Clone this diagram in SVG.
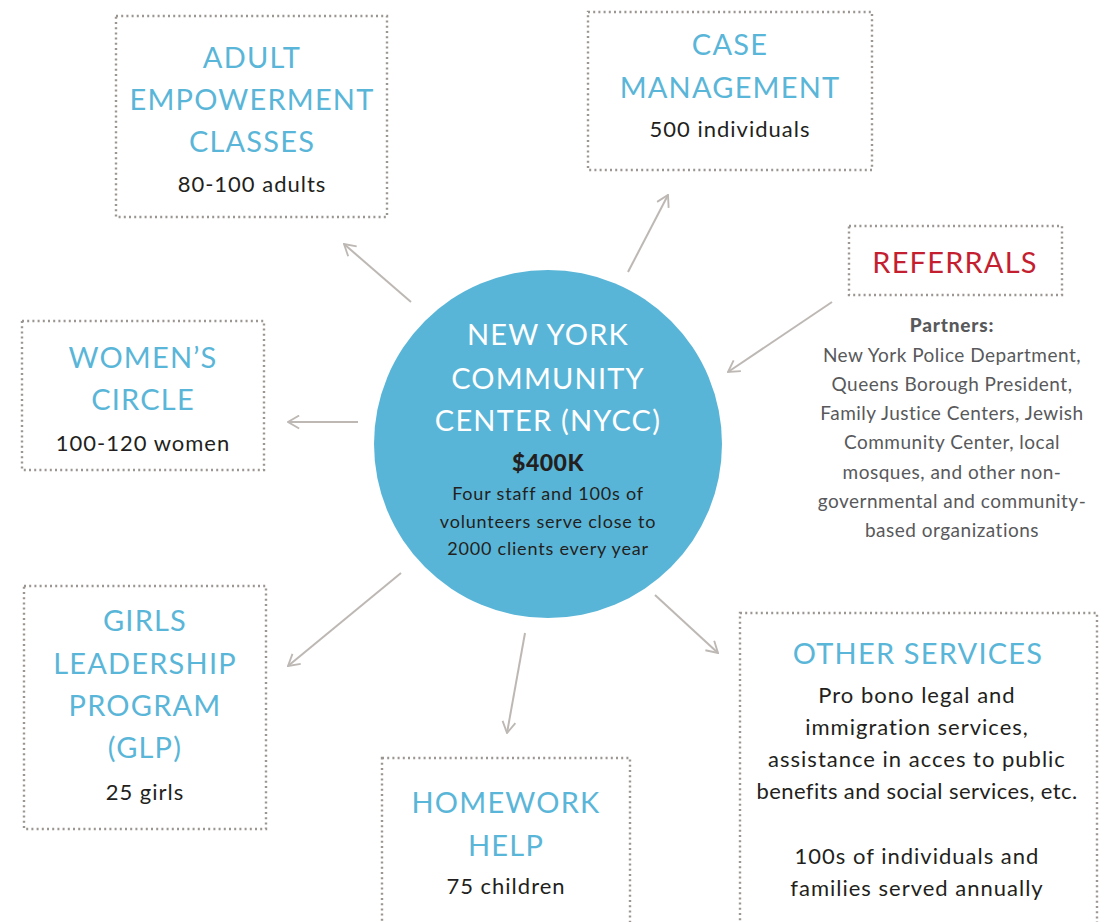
<svg xmlns="http://www.w3.org/2000/svg" width="1107" height="922" viewBox="0 0 1107 922">
  <style>
    .box { fill: none; stroke: #9b9691; stroke-width: 2.4; stroke-dasharray: 2 3.2; }
    .head { font-family: Lato, "Liberation Sans", sans-serif; font-size: 29px; fill: #5ab6d8; text-anchor: middle; letter-spacing: 1.2px; }
    .body { font-family: Lato, "Liberation Sans", sans-serif; font-size: 22px; fill: #231f20; text-anchor: middle; letter-spacing: 1px; }
    .hub { font-family: Lato, "Liberation Sans", sans-serif; font-size: 29px; fill: #ffffff; text-anchor: middle; letter-spacing: 1.2px; }
    .hubsub { font-family: Lato, "Liberation Sans", sans-serif; font-size: 18px; fill: #231f20; text-anchor: middle; letter-spacing: 0.8px; }
    .partners { font-family: Lato, "Liberation Sans", sans-serif; font-size: 19px; fill: #58595b; text-anchor: middle; letter-spacing: 0.5px; }
    .conn { stroke: #bdb8b4; stroke-width: 2; fill: none; }
  </style>
  <defs>
    <marker id="arrow" viewBox="0 0 14 16" refX="13" refY="8" markerWidth="13" markerHeight="15" markerUnits="userSpaceOnUse" orient="auto">
      <path d="M1,1 L13,8 L1,15" fill="none" stroke="#bdb8b4" stroke-width="2"/>
    </marker>
  </defs>

  <rect width="1107" height="922" fill="#ffffff"/>

  <!-- connectors -->
  <g id="connectors">
    <line class="conn" x1="411" y1="302" x2="344" y2="244" marker-end="url(#arrow)"/>
    <line class="conn" x1="628" y1="272" x2="668" y2="195" marker-end="url(#arrow)"/>
    <line class="conn" x1="832" y1="302" x2="728" y2="372" marker-end="url(#arrow)"/>
    <line class="conn" x1="358" y1="422" x2="288" y2="422" marker-end="url(#arrow)"/>
    <line class="conn" x1="401" y1="573" x2="288" y2="666" marker-end="url(#arrow)"/>
    <line class="conn" x1="525" y1="633" x2="507" y2="733" marker-end="url(#arrow)"/>
    <line class="conn" x1="655" y1="595" x2="718" y2="653" marker-end="url(#arrow)"/>
  </g>

  <!-- central hub -->
  <g id="nycc">
    <circle cx="548" cy="444" r="174" fill="#59b5d7"/>
    <text class="hub" x="548" y="345">NEW YORK</text>
    <text class="hub" x="548" y="389">COMMUNITY</text>
    <text class="hub" x="548" y="431">CENTER (NYCC)</text>
    <text class="hubsub" x="548" y="471" style="font-size:23px;font-weight:900;letter-spacing:0.5px">$400K</text>
    <text class="hubsub" x="548" y="500">Four staff and 100s of</text>
    <text class="hubsub" x="548" y="528">volunteers serve close to</text>
    <text class="hubsub" x="548" y="555">2000 clients every year</text>
  </g>

  <g id="adult-empowerment">
    <rect class="box" x="116" y="16" width="271" height="201"/>
    <text class="head" x="252" y="68">ADULT</text>
    <text class="head" x="252" y="110">EMPOWERMENT</text>
    <text class="head" x="252" y="152">CLASSES</text>
    <text class="body" x="252" y="192">80-100 adults</text>
  </g>

  <g id="case-management">
    <rect class="box" x="588" y="12" width="284" height="158"/>
    <text class="head" x="730" y="55">CASE</text>
    <text class="head" x="730" y="98">MANAGEMENT</text>
    <text class="body" x="730" y="137">500 individuals</text>
  </g>

  <g id="referrals">
    <rect class="box" x="849" y="226" width="213" height="69"/>
    <text class="head" x="955" y="273" style="fill:#c41f30">REFERRALS</text>
    <text class="partners" x="952" y="332" style="font-weight:900;letter-spacing:0.8px">Partners:</text>
    <text class="partners" x="952" y="362">New York Police Department,</text>
    <text class="partners" x="952" y="391">Queens Borough President,</text>
    <text class="partners" x="952" y="420">Family Justice Centers, Jewish</text>
    <text class="partners" x="952" y="449">Community Center, local</text>
    <text class="partners" x="952" y="479">mosques, and other non-</text>
    <text class="partners" x="952" y="508">governmental and community-</text>
    <text class="partners" x="952" y="537">based organizations</text>
  </g>

  <g id="womens-circle">
    <rect class="box" x="22" y="321" width="242" height="149"/>
    <text class="head" x="143" y="368">WOMEN’S</text>
    <text class="head" x="143" y="410">CIRCLE</text>
    <text class="body" x="143" y="451">100-120 women</text>
  </g>

  <g id="girls-leadership">
    <rect class="box" x="24" y="586" width="242" height="243"/>
    <text class="head" x="145" y="631">GIRLS</text>
    <text class="head" x="145" y="674">LEADERSHIP</text>
    <text class="head" x="145" y="716">PROGRAM</text>
    <text class="head" x="145" y="758">(GLP)</text>
    <text class="body" x="145" y="800">25 girls</text>
  </g>

  <g id="homework-help">
    <rect class="box" x="382" y="758" width="248" height="200"/>
    <text class="head" x="506" y="813">HOMEWORK</text>
    <text class="head" x="506" y="856">HELP</text>
    <text class="body" x="506" y="894">75 children</text>
  </g>

  <g id="other-services">
    <rect class="box" x="740" y="613" width="357" height="340"/>
    <text class="head" x="918" y="664">OTHER SERVICES</text>
    <text class="body" x="917" y="703">Pro bono legal and</text>
    <text class="body" x="917" y="735">immigration services,</text>
    <text class="body" x="917" y="767">assistance in acces to public</text>
    <text class="body" x="917" y="799" style="letter-spacing:0.4px">benefits and social services, etc.</text>
    <text class="body" x="917" y="864">100s of individuals and</text>
    <text class="body" x="917" y="896">families served annually</text>
  </g>
</svg>
